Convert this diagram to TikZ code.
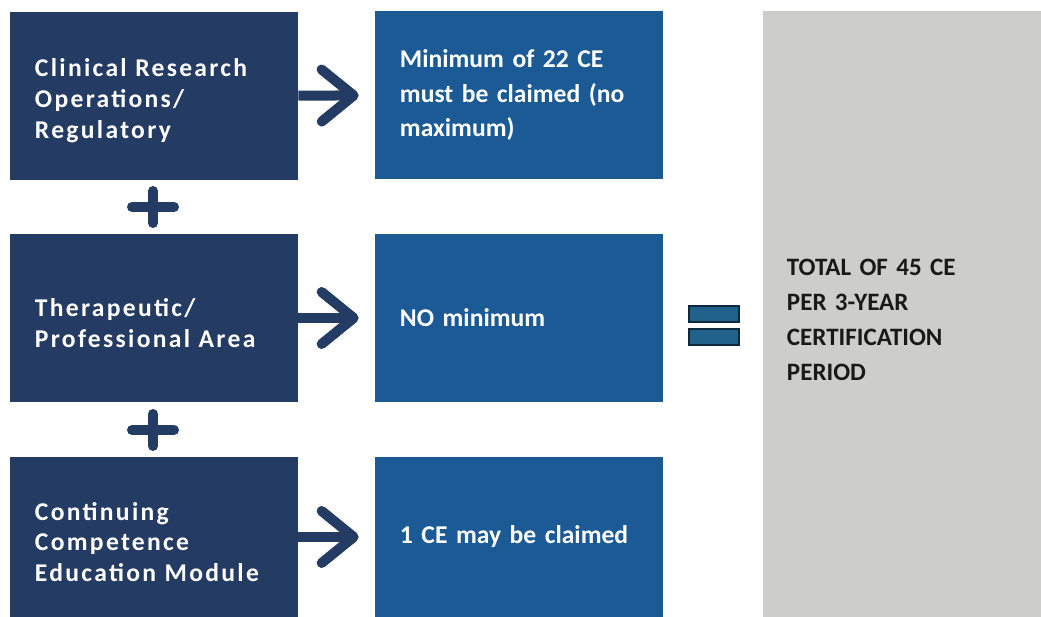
\documentclass[tikz,border=0pt]{standalone}
\usepackage{fontspec}
\setmainfont{Carlito}
\newfontfamily\wideface[LetterSpace=9]{Carlito}
\usepackage{tikz}
\usetikzlibrary{arrows.meta}
\usepackage{xcolor}
\definecolor{ColNavy}{RGB}{36,59,100}
\definecolor{ColBlue}{RGB}{28,90,150}
\definecolor{ColGrey}{RGB}{205,205,203}
\definecolor{ColEq}{RGB}{32,98,140}
\definecolor{ColEqLine}{RGB}{14,40,62}
\tikzstyle{AreaBox}=[rectangle,fill=ColNavy,text=white,minimum width=7.2cm,minimum height=4.2cm,
inner xsep=0.625cm,text width=5.95cm,align=left,execute at begin node={\rule{0pt}{20pt}},
font=\wideface\bfseries\fontsize{18.2}{22}\selectfont]
\tikzstyle{RuleBox}=[rectangle,fill=ColBlue,text=white,minimum width=7.2cm,minimum height=4.2cm,
inner xsep=0.625cm,text width=5.95cm,align=left,font=\bfseries\fontsize{18.2}{24.8}\selectfont]
\tikzstyle{TotalBox}=[rectangle,fill=ColGrey,text=black!90,minimum width=6.95cm,minimum height=15.15cm,
inner xsep=0.6cm,text width=5.75cm,align=left,execute at begin node={\rule{0pt}{20pt}},
font=\bfseries\fontsize{17.8}{24.8}\selectfont]
\tikzstyle{ArrowLink}=[ColNavy,line width=0.25cm,shorten >=0.4cm,
-{Straight Barb[length=0.8cm,width=1.3cm,round]}]
\tikzstyle{PlusSign}=[ColNavy,line width=0.25cm,line cap=round]
\tikzstyle{EqBar}=[fill=ColEq,draw=ColEqLine,line width=0.05cm]

\begin{document}
\begin{tikzpicture}[x=0.025cm,y=-0.025cm]
        \useasboundingbox(0,0)rectangle(1041,617);
        \node[AreaBox](a1)at(154,96){Clinical Research\\Operations/\\Regulatory};
        \node[AreaBox](a2)at(154,318){Therapeutic/\\Professional Area};
        \node[AreaBox,minimum height=4cm](a3)at(154,537){Continuing\\Competence\\Education Module};
        \node[RuleBox](m1)at(519,95){Minimum of 22 CE must be claimed (no maximum)};
        \node[RuleBox](m2)at(519,318){NO minimum};
        \node[RuleBox,minimum height=4cm](m3)at(519,537){1 CE may be claimed};
        \node[TotalBox](t)at(902,314){TOTAL OF 45 CE\\PER 3-YEAR\\CERTIFICATION\\PERIOD};
        \draw[ArrowLink](a1)--(m1);
        \draw[ArrowLink](a2)--(m2);
        \draw[ArrowLink](a3)--(m3);
        \coordinate(p1)at(153,207);
        \coordinate(p2)at(153,430);
        \draw[PlusSign](p1)+(-21,0)--+(21,0)(p1)+(0,-16)--+(0,16);
        \draw[PlusSign](p2)+(-21,0)--+(21,0)(p2)+(0,-16)--+(0,16);
        \draw[EqBar](689,306)rectangle(739,322);
        \draw[EqBar](689,329)rectangle(739,345);
    \end{tikzpicture}
\end{document}
